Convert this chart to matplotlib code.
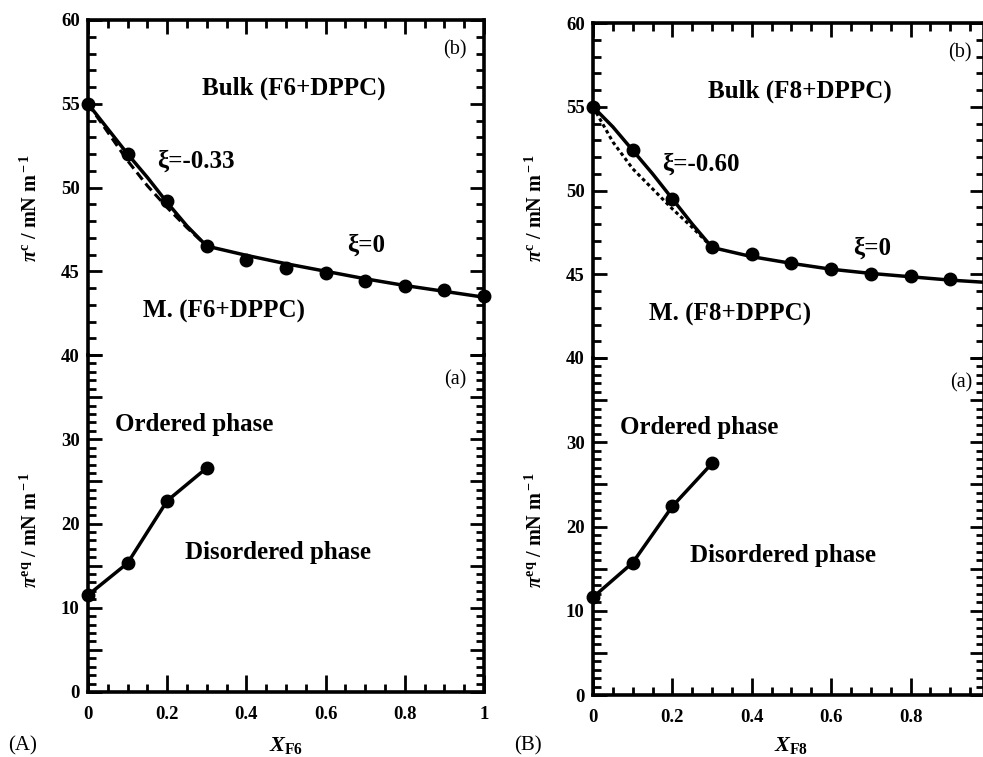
import matplotlib
matplotlib.use("Agg")
import matplotlib.pyplot as plt
from matplotlib.ticker import MultipleLocator, FuncFormatter

plt.rcParams["font.family"] = ["Liberation Serif", "DejaVu Serif"]
plt.rcParams["font.weight"] = "bold"
plt.rcParams["mathtext.fontset"] = "custom"
plt.rcParams["mathtext.rm"] = "Liberation Serif:bold"
plt.rcParams["mathtext.it"] = "Liberation Serif:italic:bold"
plt.rcParams["mathtext.bf"] = "Liberation Serif:bold"

# ---- panel A: F6 + DPPC ----
xA_pts = [0.0, 0.1, 0.2, 0.3, 0.4, 0.5, 0.6, 0.7, 0.8, 0.9, 1.0]
piC_A = [55.0, 52.0, 49.2, 46.5, 45.65, 45.2, 44.9, 44.4, 44.1, 43.9, 43.5]
xA_fit = [0.0, 0.05, 0.1, 0.15, 0.2, 0.25, 0.3, 0.4, 0.5, 0.6, 0.7, 0.8, 0.9, 1.0]
fitA = [55.0, 53.5, 52.0, 50.6, 49.1, 47.7, 46.5, 45.95, 45.45, 45.0, 44.55, 44.15, 43.8, 43.45]
xA_ideal = [0.0, 0.05, 0.1, 0.15, 0.2, 0.25, 0.3]
idealA = [55.0, 53.3, 51.6, 50.1, 48.8, 47.6, 46.5]
xA_eq = [0.0, 0.1, 0.2, 0.3]
piEq_A = [11.5, 15.3, 22.7, 26.6]

# ---- panel B: F8 + DPPC ----
xB_pts = [0.0, 0.1, 0.2, 0.3, 0.4, 0.5, 0.6, 0.7, 0.8, 0.9]
piC_B = [55.0, 52.4, 49.5, 46.6, 46.2, 45.7, 45.3, 45.0, 44.9, 44.7]
xB_fit = [0.0, 0.05, 0.1, 0.15, 0.2, 0.25, 0.3, 0.4, 0.5, 0.6, 0.7, 0.8, 0.9, 1.0]
fitB = [55.0, 53.8, 52.4, 51.0, 49.5, 48.0, 46.6, 46.05, 45.65, 45.3, 45.05, 44.85, 44.65, 44.5]
xB_ideal = [0.0, 0.05, 0.1, 0.15, 0.2, 0.25, 0.3]
idealB = [55.0, 52.9, 51.3, 50.1, 48.9, 47.8, 46.6]
xB_eq = [0.0, 0.1, 0.2, 0.3]
piEq_B = [11.6, 15.7, 22.4, 27.5]

W, H = 983, 757


def rect(left, right, top, bottom):
    return [left / W, 1 - bottom / H, (right - left) / W, (bottom - top) / H]


def style_axes(ax, upper, xmax):
    for s in ax.spines.values():
        s.set_linewidth(2.6)
    ax.set_xlim(0, xmax)
    ax.xaxis.set_major_locator(MultipleLocator(0.2))
    ax.xaxis.set_minor_locator(MultipleLocator(0.05))
    ax.yaxis.set_major_locator(MultipleLocator(5))
    ax.yaxis.set_minor_locator(MultipleLocator(1))
    ax.tick_params(which="both", direction="in", left=True, right=True,
                   width=2, labelsize=13.5, pad=6)
    ax.tick_params(which="major", length=10)
    ax.tick_params(which="minor", length=6)
    if upper:
        ax.set_ylim(40, 60)
        ax.spines["bottom"].set_visible(False)
        ax.tick_params(axis="x", which="both", bottom=False, top=True,
                       labelbottom=False)
    else:
        ax.set_ylim(0, 40)
        ax.spines["top"].set_visible(False)
        ax.tick_params(axis="x", which="both", bottom=True, top=False, pad=10)
        ax.tick_params(axis="x", which="major", length=12)
        ax.yaxis.set_major_formatter(FuncFormatter(
            lambda v, p: "%d" % v if (v % 10 == 0 and v < 40) else ""))
        ax.xaxis.set_major_formatter(FuncFormatter(
            lambda v, p: "%g" % round(v, 1)))
    ax.patch.set_alpha(0)


def draw_panel(fig, left, right, top, mid, bottom, xmax, xp, yp, xf, yf,
               xi, yi, ideal_ls, xe, ye, comp, xi_txt, letter):
    ax_u = fig.add_axes(rect(left, right, top, mid))
    ax_l = fig.add_axes(rect(left, right, mid, bottom))
    style_axes(ax_u, True, xmax)
    style_axes(ax_l, False, xmax)

    ax_u.plot(xf, yf, color="black", lw=2.5)
    ax_u.plot(xi, yi, color="black", lw=2.2, linestyle=ideal_ls)
    ax_u.plot(xp, yp, "o", color="black", ms=9, clip_on=False)
    ax_l.plot(xe, ye, "-o", color="black", lw=2.5, ms=9, clip_on=False)

    fs = 18
    ax_u.text(0.52, 55.9, "Bulk (%s+DPPC)" % comp, ha="center", va="center",
              fontsize=fs)
    ax_u.text(0.175, 51.6, xi_txt, ha="left", va="center", fontsize=fs)
    ax_u.text(0.655, 46.55, "ξ=0", ha="left", va="center", fontsize=fs)
    ax_u.text(0.14, 42.6, "M. (%s+DPPC)" % comp, ha="left", va="center",
              fontsize=fs)
    ax_u.text(0.955, 58.2, "(b)", ha="right", va="center", fontsize=14.5,
              fontweight="normal")
    ax_l.text(0.955, 37.0, "(a)", ha="right", va="center", fontsize=14.5,
              fontweight="normal")
    ax_l.text(0.068, 31.7, "Ordered phase", ha="left", va="center",
              fontsize=fs)
    ax_l.text(0.245, 16.5, "Disordered phase", ha="left", va="center",
              fontsize=fs)

    fig.text((left - 57) / W, 1 - 208 / H,
             r"$\mathit{\pi}^{\rm c}$ / mN m$^{\rm -1}$",
             rotation=90, ha="center", va="center", fontsize=14.5)
    fig.text((left - 57) / W, 1 - 530 / H,
             r"$\mathit{\pi}^{\rm eq}$ / mN m$^{\rm -1}$",
             rotation=90, ha="center", va="center", fontsize=14.5)
    fig.text((left + 198) / W, 1 - 746 / H,
             r"$\mathit{X}_{\rm %s}$" % comp, ha="center", va="center",
             fontsize=16)
    fig.text((left - 65) / W, 1 - 746 / H, letter, ha="center", va="center",
             fontsize=15, fontweight="normal")


fig = plt.figure(figsize=(W / 100, H / 100), dpi=100)
draw_panel(fig, 88, 484, 20, 355, 692, 1.0, xA_pts, piC_A, xA_fit, fitA,
           xA_ideal, idealA, (0, (3.0, 1.6)), xA_eq, piEq_A, "F6",
           "ξ=-0.33", "(A)")
draw_panel(fig, 593, 984, 23, 358, 695, 0.985, xB_pts, piC_B, xB_fit, fitB,
           xB_ideal, idealB, (0, (1.2, 1.0)), xB_eq, piEq_B, "F8",
           "ξ=-0.60", "(B)")

fig.savefig("out.png", dpi=100)
